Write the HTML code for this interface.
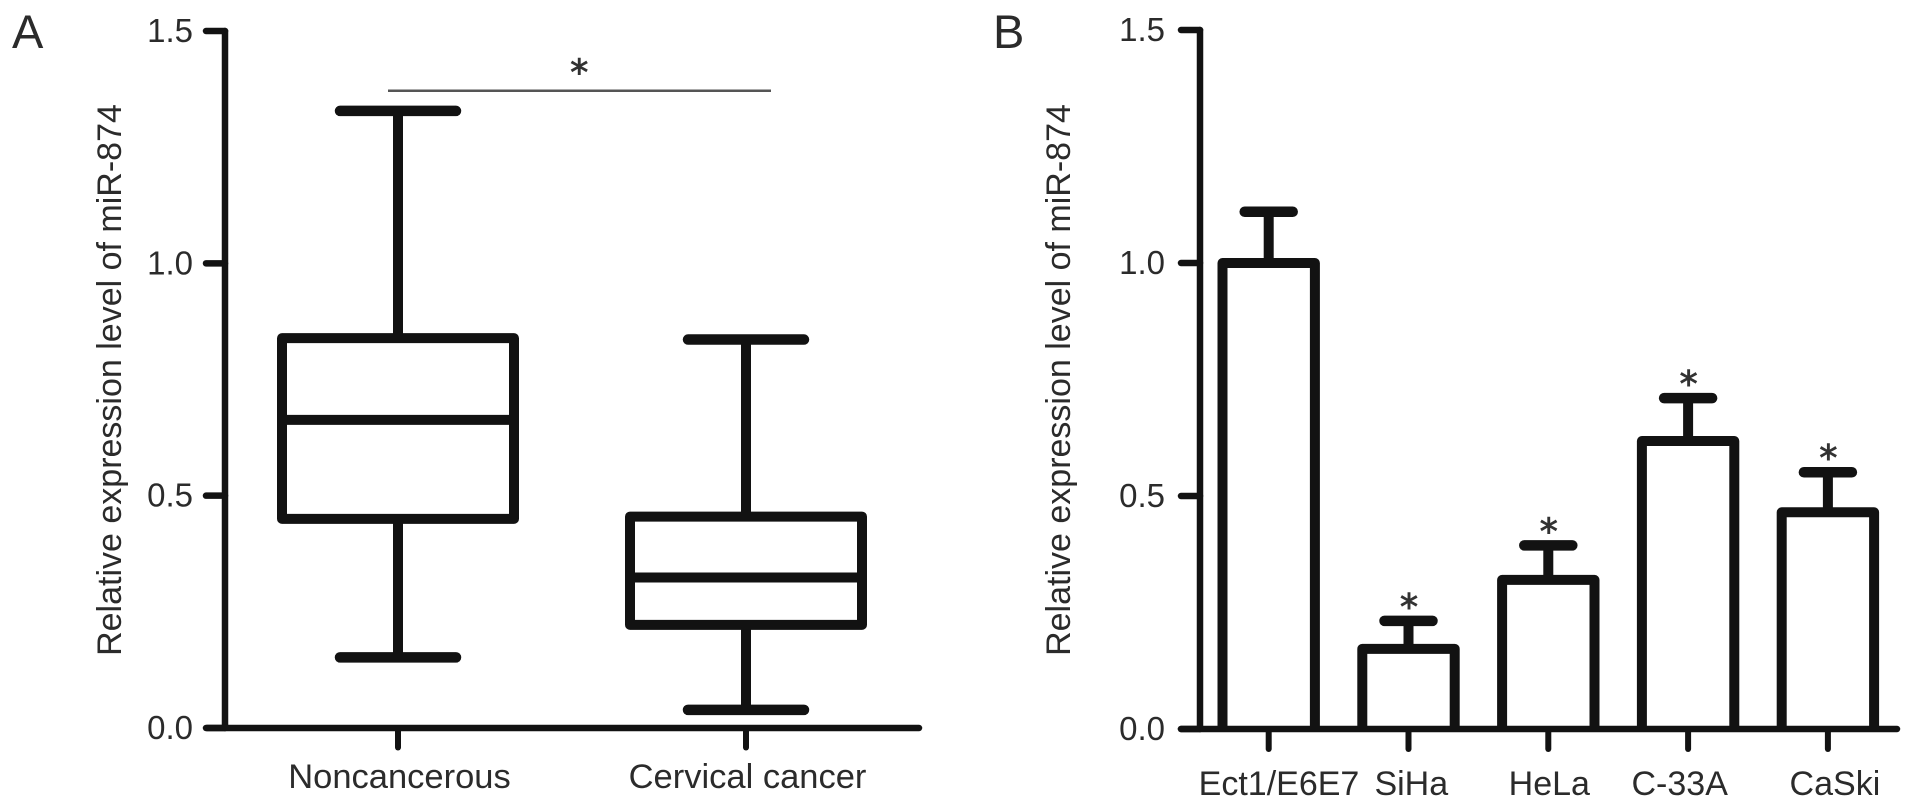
<!DOCTYPE html>
<html>
<head>
<meta charset="utf-8">
<style>
html,body{margin:0;padding:0;background:#fff;}
svg{display:block;}
text{font-family:"Liberation Sans",sans-serif;fill:#2b2b2b;}
text.star{font-family:"DejaVu Sans",sans-serif;fill:#333;stroke:#333;stroke-width:0.9;}
</style>
</head>
<body>
<svg id="chart" width="1913" height="808" viewBox="0 0 1913 808" xmlns="http://www.w3.org/2000/svg"></svg>
<script>
const yTicks = [0, 0.5, 1.0, 1.5];
const boxCategories = ["Noncancerous", "Cervical cancer"];
const boxWhiskerLow = [0.152, 0.039];
const boxQ1 = [0.45, 0.222];
const boxMedian = [0.663, 0.324];
const boxQ3 = [0.839, 0.455];
const boxWhiskerHigh = [1.328, 0.836];
const barCategories = ["Ect1/E6E7", "SiHa", "HeLa", "C-33A", "CaSki"];
const barValues = [1.0, 0.172, 0.32, 0.618, 0.465];
const barErrors = [0.11, 0.06, 0.074, 0.092, 0.086];
const barStars = [false, true, true, true, true];

/* Layout-only horizontal nudges for the hand-placed panel B labels */
const labelNudge = [10.3, 2.8, 1, -8.4, 7];

const svg = document.getElementById('chart');
const NS = 'http://www.w3.org/2000/svg';
const dark = '#121212';

function yA(v){ return 728 - v * 697 / 1.5; }
function yB(v){ return 729 - v * 699 / 1.5; }
function boxX(i){ return 398 + i * 348; }
function barX(i){ return 1268.7 + i * 139.8; }

function line(x1,y1,x2,y2,w,name,color,cap){
  const el = document.createElementNS(NS,'line');
  el.setAttribute('x1',x1);
  el.setAttribute('y1',y1);
  el.setAttribute('x2',x2);
  el.setAttribute('y2',y2);
  el.setAttribute('stroke',color||dark);
  el.setAttribute('stroke-width',w);
  el.setAttribute('stroke-linecap',cap||'round');
  
  
  svg.appendChild(el);
  return el;
}
function rect(x,y,w,h,sw,name){
  const el = document.createElementNS(NS,'rect');
  el.setAttribute('x',x);
  el.setAttribute('y',y);
  el.setAttribute('width',w);
  el.setAttribute('height',h);
  el.setAttribute('fill','#fff');
  el.setAttribute('stroke',dark);
  el.setAttribute('stroke-width',sw);
  el.setAttribute('stroke-linejoin','round');
  
  
  svg.appendChild(el);
  return el;
}
function openBar(x,top,base,hw,sw,name){
  const el = document.createElementNS(NS,'path');
  el.setAttribute('d','M'+(x-hw)+' '+base+'V'+top+'H'+(x+hw)+'V'+base);
  el.setAttribute('fill','#fff');
  el.setAttribute('stroke',dark);
  el.setAttribute('stroke-width',sw);
  el.setAttribute('stroke-linejoin','round');
  
  
  svg.appendChild(el);
  return el;
}
function text(x,y,s,size,anchor,name,rot){
  const el = document.createElementNS(NS,'text');
  el.setAttribute('x',x);
  el.setAttribute('y',y);
  el.setAttribute('font-size',size);
  el.setAttribute('text-anchor',anchor);
  if(rot){ el.setAttribute('transform','rotate(-90 '+x+' '+y+')'); }
  el.textContent = s;
  
  
  svg.appendChild(el);
  return el;
}
function star(x,y,name){
  const el = text(x,y+21,'*',36,'middle',name);
  el.setAttribute('class','star');
  return el;
}
function slug(s){ return s.toLowerCase().replace(/[^a-z0-9]+/g,'-'); }

/* Panel letters */
text(12,48,'A',47,'start','panel-a-label');
text(993,48,'B',47,'start','panel-b-label');

/* Panel A boxes */
boxCategories.forEach(function(c,i){
  const x = boxX(i), hw = 116, cap = 58, n = slug(c);
  line(x,yA(boxWhiskerHigh[i]),x,yA(boxWhiskerLow[i]),10,'whisker-'+n,dark,'butt');
  line(x-cap,yA(boxWhiskerHigh[i]),x+cap,yA(boxWhiskerHigh[i]),10.5,'whisker-high-cap-'+n);
  line(x-cap,yA(boxWhiskerLow[i]),x+cap,yA(boxWhiskerLow[i]),10.5,'whisker-low-cap-'+n);
  rect(x-hw,yA(boxQ3[i]),hw*2,yA(boxQ1[i])-yA(boxQ3[i]),10,'box-'+n);
  line(x-hw,yA(boxMedian[i]),x+hw,yA(boxMedian[i]),10,'median-'+n,dark,'butt');
  line(x,yA(0),x,747.5,6,'panel-a-x-tick-'+n);
  text(x+1.5,788,c,34.5,'middle','panel-a-x-label-'+n);
});

/* Panel A axes */
line(225,yA(1.5),225,yA(0),6.5,'panel-a-y-axis');
line(207,yA(0),919,yA(0),6.5,'panel-a-x-axis');
yTicks.forEach(function(t){
  line(206,yA(t),225,yA(t),6.5,'panel-a-y-tick-'+t);
  text(193,yA(t)+11,t.toFixed(1),33,'end','panel-a-y-tick-label-'+t);
});
text(121,380,'Relative expression level of miR-874',34,'middle','panel-a-y-axis-title',true);

/* Significance */
line(388,90.7,771,90.7,2.5,'significance-line','#555','butt');
star(579.3,63.3,'significance-star');

/* Panel B bars */
barCategories.forEach(function(c,i){
  const x = barX(i), hw = 46.2, n = slug(c);
  const top = yB(barValues[i]), errTop = yB(barValues[i]+barErrors[i]);
  line(x,top,x,errTop,10,'error-bar-'+n,dark,'butt');
  line(x-24,errTop,x+24,errTop,10.5,'error-cap-'+n);
  openBar(x,top,yB(0),hw,10,'bar-'+n);
  line(x,yB(0),x,749,6,'panel-b-x-tick-'+n);
  text(x+labelNudge[i],795,c,34,'middle','panel-b-x-label-'+n);
  if(barStars[i]){ star(x+0.5,errTop-23,'bar-star-'+n); }
});

/* Panel B axes */
line(1200,yB(1.5),1200,yB(0),6.5,'panel-b-y-axis');
line(1181,yB(0),1897,yB(0),6.5,'panel-b-x-axis');
yTicks.forEach(function(t){
  line(1181,yB(t),1200,yB(t),6.5,'panel-b-y-tick-'+t);
  text(1165,yB(t)+11,t.toFixed(1),33,'end','panel-b-y-tick-label-'+t);
});
text(1070,380,'Relative expression level of miR-874',34,'middle','panel-b-y-axis-title',true);
</script>
</body>
</html>
